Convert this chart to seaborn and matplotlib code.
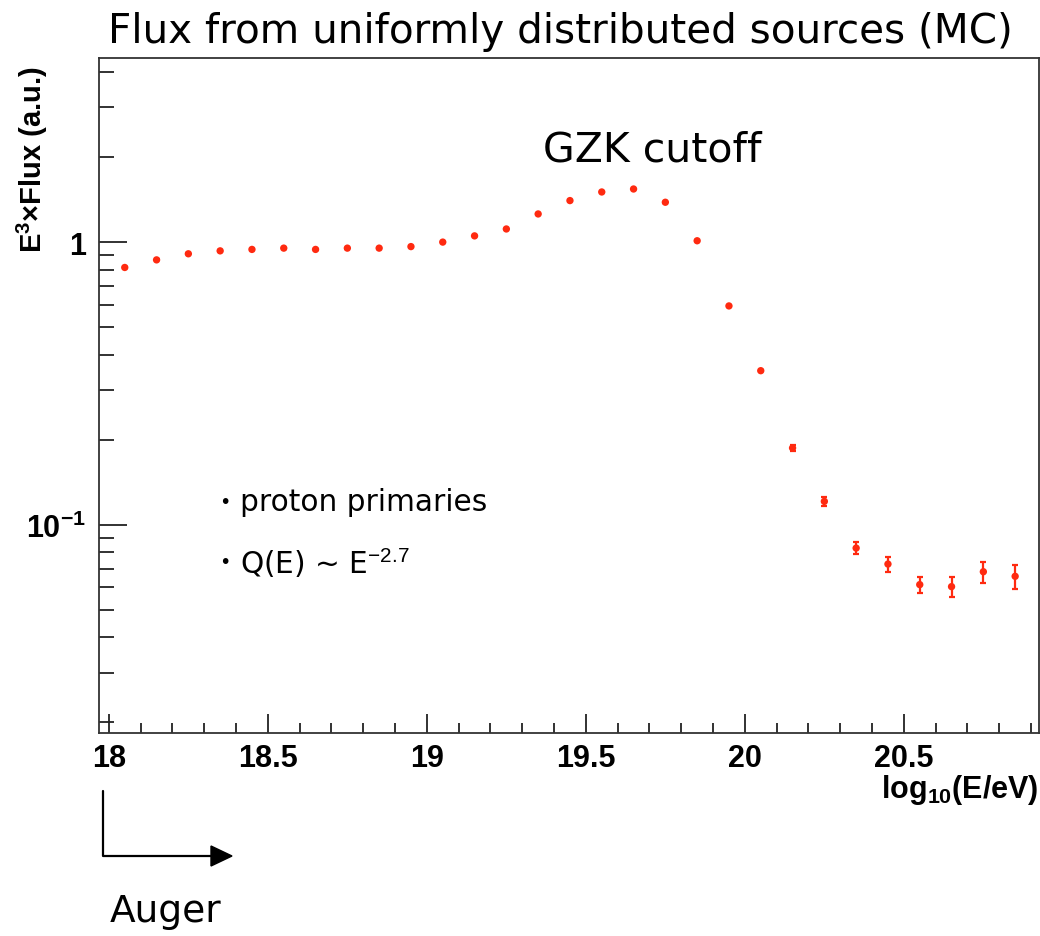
import numpy as np
import pandas as pd
import matplotlib
matplotlib.use("Agg")
import matplotlib.pyplot as plt
import seaborn as sns
from matplotlib.ticker import FixedLocator, NullFormatter
from matplotlib.lines import Line2D
from matplotlib.patches import Polygon
from matplotlib.transforms import IdentityTransform

# ---- data ----
log_energy = [18.05, 18.15, 18.25, 18.35, 18.45, 18.55, 18.65, 18.75, 18.85, 18.95,
              19.05, 19.15, 19.25, 19.35, 19.45, 19.55, 19.65, 19.75, 19.85, 19.95,
              20.05, 20.15, 20.25, 20.35, 20.45, 20.55, 20.65, 20.75, 20.85]
flux_e3 = [0.814, 0.866, 0.910, 0.932, 0.943, 0.953, 0.943, 0.953, 0.953, 0.965,
           1.001, 1.053, 1.114, 1.259, 1.404, 1.506, 1.543, 1.385, 1.012, 0.595,
           0.351, 0.187, 0.121, 0.0827, 0.0726, 0.0614, 0.0604, 0.0682, 0.0657]
flux_err = [0.003, 0.003, 0.003, 0.003, 0.003, 0.003, 0.003, 0.003, 0.003, 0.003,
            0.003, 0.003, 0.004, 0.004, 0.004, 0.004, 0.004, 0.004, 0.003, 0.002,
            0.002, 0.0053, 0.0044, 0.0040, 0.0045, 0.0041, 0.0048, 0.0058, 0.0064]
x_major = [18.0, 18.5, 19.0, 19.5, 20.0, 20.5]
x_major_labels = ["18", "18.5", "19", "19.5", "20", "20.5"]
x_minor = [18.1, 18.2, 18.3, 18.4, 18.6, 18.7, 18.8, 18.9, 19.1, 19.2, 19.3, 19.4,
           19.6, 19.7, 19.8, 19.9, 20.1, 20.2, 20.3, 20.4, 20.6, 20.7, 20.8, 20.9]
y_major = [0.1, 1.0]
y_major_labels = [r"$\mathbf{10^{-1}}$", "1"]
y_minor = [0.02, 0.03, 0.04, 0.05, 0.06, 0.07, 0.08, 0.09,
           0.2, 0.3, 0.4, 0.5, 0.6, 0.7, 0.8, 0.9, 2, 3, 4]

df = pd.DataFrame({"logE": log_energy, "flux": flux_e3, "err": flux_err})

sns.set_theme(style="ticks")
plt.rcParams["font.family"] = ["DejaVu Sans"]
plt.rcParams["text.color"] = "black"
plt.rcParams["axes.labelcolor"] = "black"
plt.rcParams["xtick.color"] = "black"
plt.rcParams["ytick.color"] = "black"
plt.rcParams["mathtext.fontset"] = "custom"
plt.rcParams["mathtext.rm"] = "Liberation Sans"
plt.rcParams["mathtext.bf"] = "Liberation Sans:bold"
plt.rcParams["mathtext.it"] = "Liberation Sans:italic"

W, H = 1040, 937
fig = plt.figure(figsize=(W / 100, H / 100), dpi=100)
ax = fig.add_axes([99 / W, 1 - 734 / H, (1039 - 99) / W, (734 - 59) / H])

red = "#ff2a10"
ax.errorbar(df["logE"], df["flux"], yerr=df["err"], fmt="none", ecolor=red,
            elinewidth=1.6, capsize=2.2, capthick=1.6, zorder=2)
sns.scatterplot(data=df, x="logE", y="flux", ax=ax, color=red, s=28,
                edgecolor="none", zorder=3, legend=False)

ax.set_yscale("log")
ax.set_xlim(17.969, 20.925)
ax.set_ylim(10 ** -1.737, 10 ** 0.652)

ax.xaxis.set_major_locator(FixedLocator(x_major))
ax.set_xticklabels(x_major_labels)
ax.xaxis.set_minor_locator(FixedLocator(x_minor))
ax.xaxis.set_minor_formatter(NullFormatter())
ax.yaxis.set_major_locator(FixedLocator(y_major))
ax.set_yticklabels(y_major_labels)
ax.yaxis.set_minor_locator(FixedLocator(y_minor))
ax.yaxis.set_minor_formatter(NullFormatter())

for lab in ax.get_xticklabels() + ax.get_yticklabels():
    lab.set_fontfamily("Liberation Sans")
    lab.set_fontweight("bold")
    lab.set_fontsize(22)
    lab.set_color("black")

ax.tick_params(axis="x", which="major", direction="in", length=13.7, width=1.3,
               color="#222222", pad=7, top=False)
ax.tick_params(axis="x", which="minor", direction="in", length=7.2, width=1.3,
               color="#222222", top=False)
ax.tick_params(axis="y", which="major", direction="in", length=20, width=1.3,
               color="#222222", pad=9, right=False)
ax.tick_params(axis="y", which="minor", direction="in", length=10.8, width=1.3,
               color="#222222", right=False)
for sp in ax.spines.values():
    sp.set_visible(True)
    sp.set_color("#333333")
    sp.set_linewidth(1.3)

ax.set_xlabel(r"log$_{\mathbf{10}}$(E/eV)", fontfamily="Liberation Sans",
              fontweight="bold", fontsize=22, loc="right", color="black")
ax.xaxis.set_label_coords(1.0, -0.058)
ax.set_ylabel(r"$\mathbf{E^{3}}$×Flux (a.u.)", fontfamily="Liberation Sans",
              fontweight="bold", fontsize=21, loc="top", color="black")
ax.yaxis.set_label_coords((50 - 99) / 940, (734 - 66) / 675)

# title & annotations (figure pixel coordinates)
fig.text(108 / W, 1 - 32 / H, "Flux from uniformly distributed sources (MC)",
         fontsize=29.2, ha="left", va="center", color="black")
fig.text(543 / W, 1 - 150 / H, "GZK cutoff", fontsize=29.5, ha="left", va="center",
         color="black")
fig.text(219 / W, 1 - 503 / H, "•", fontsize=14, ha="left", va="center", color="black")
fig.text(240 / W, 1 - 503 / H, "proton primaries", fontsize=21.3, ha="left",
         va="center", color="black")
fig.text(219 / W, 1 - 563 / H, "•", fontsize=14, ha="left", va="center", color="black")
fig.text(240 / W, 1 - 563 / H, r"Q(E) ~ E$^{-2.7}$", fontsize=21.3, ha="left",
         va="center", color="black")
fig.text(110 / W, 1 - 912 / H, "Auger", fontsize=27, ha="left", va="center",
         color="black")

idt = IdentityTransform()
fig.add_artist(Line2D([103, 103, 212], [H - 792, H - 857, H - 857],
                      transform=idt, color="black", linewidth=1.6))
fig.add_artist(Polygon([[211, H - 847], [232, H - 857], [211, H - 867]],
                       closed=True, transform=idt, color="black"))

fig.savefig("out.png", dpi=100)
